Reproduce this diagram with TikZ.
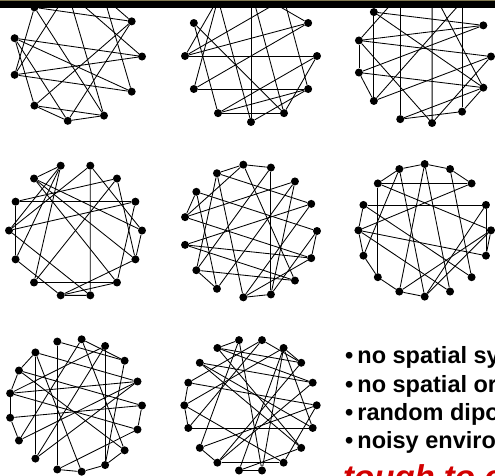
\documentclass[tikz,border=0pt]{standalone}
\usepackage{fontspec}
\setmainfont{Liberation Sans}
\definecolor{barline}{RGB}{128,120,80}
\definecolor{tough}{RGB}{210,0,0}
\begin{document}
\begin{tikzpicture}[x=1pt,y=-1pt,
  dot/.style={circle,fill=black,inner sep=0pt,minimum size=8pt},
  link/.style={line width=0.85pt},
  item/.style={anchor=base west,inner sep=0pt,font=\bfseries\fontsize{23.5}{28}\selectfont}]
  \clip (0,0) rectangle (495,475);
  % graph a, 11 dots
  \foreach \k in {0,...,10}
    \path (77,56.5) ++({65*cos(\k*360/11)},{-65*sin(\k*360/11)}) node[dot] (a\k) {};
  \foreach \i/\j in {5/0,5/10,6/0,6/10,5/7,5/8,4/1,6/3,7/1,7/8,7/9,8/9,8/1,9/3,10/2,0/3,1/2,4/9,6/4}
    \draw[link] (a\i) -- (a\j);
  % graph b, 12 dots
  \foreach \k in {0,...,11}
    \path (251,56) ++({66*cos(\k*360/12)},{-66*sin(\k*360/12)}) node[dot] (b\k) {};
  \foreach \i/\j in {0/6,7/11,6/1,6/2,5/10,5/8,0/8,0/10,11/8,11/9,9/4,9/3,1/7,4/6,4/7,2/11,3/10,1/3,8/10}
    \draw[link] (b\i) -- (b\j);
  % graph c, 13 dots
  \foreach \k in {0,...,12}
    \path (424,56.5) ++({67*cos(\k*360/13)},{-67*sin(\k*360/13)}) node[dot] (c\k) {};
  \foreach \i/\j in {5/8,9/4,10/3,6/1,6/0,7/1,7/12,8/0,6/10,9/12,9/11,10/0,11/2,5/1,5/12,6/7,7/8,4/6,2/8,12/3,11/12}
    \draw[link] (c\i) -- (c\j);
  % graph d, 14 dots
  \foreach \k in {0,...,13}
    \path (75.5,230.5) ++({66.5*cos(\k*360/14)},{-66.5*sin(\k*360/14)}) node[dot] (d\k) {};
  \foreach \i/\j in {3/11,6/1,9/12,6/8,4/5,4/7,4/8,4/9,3/0,3/7,2/9,2/13,5/0,5/13,6/2,7/1,7/11,10/11,10/13,10/12,0/13,1/12,8/10,5/12}
    \draw[link] (d\i) -- (d\j);
  % graph e, 15 dots
  \foreach \k in {0,...,14}
    \path (250.3,231) ++({66.7*cos(\k*360/15)},{-66.7*sin(\k*360/15)}) node[dot] (e\k) {};
  \foreach \i/\j in {3/12,4/3,4/5,4/7,4/13,5/9,5/11,6/7,6/0,7/2,7/14,8/14,8/13,8/1,9/10,9/3,10/2,11/12,11/1,11/14,12/2,5/1,6/10,9/13,0/14,12/0}
    \draw[link] (e\i) -- (e\j);
  % graph f, 16 dots
  \foreach \k in {0,...,15}
    \path (424.7,230.3) ++({66.3*cos(\k*360/16)},{-66.3*sin(\k*360/16)}) node[dot] (f\k) {};
  \foreach \i/\j in {6/2,7/1,6/10,1/15,4/3,4/13,4/11,5/6,5/12,3/14,2/8,8/15,8/13,7/8,8/9,9/10,10/11,11/12,0/11,0/12,9/5,6/0,4/5,3/2,0/15,14/7,1/12}
    \draw[link] (f\i) -- (f\j);
  % graph g, 17 dots
  \foreach \k in {0,...,16}
    \path (75.5,405.5) ++({66.5*cos(\k*360/17)},{-66.5*sin(\k*360/17)}) node[dot] (g\k) {};
  \foreach \i/\j in {5/12,3/14,6/11,8/9,7/8,4/2,4/10,4/15,5/2,3/11,3/8,6/1,6/13,7/0,8/1,8/16,9/0,10/1,11/1,12/13,13/14,14/15,0/16,14/2,7/15,12/16,9/10,6/7}
    \draw[link] (g\i) -- (g\j);
  % graph h, 18 dots
  \foreach \k in {0,...,17}
    \path (250.5,405.3) ++({66.2*cos(\k*360/18)},{-66.2*sin(\k*360/18)}) node[dot] (h\k) {};
  \foreach \i/\j in {10/17,12/15,7/1,8/0,9/8,9/10,6/1,6/2,5/11,4/8,4/2,3/13,3/17,2/12,0/11,16/6,16/13,14/5,14/3,5/6,7/16,9/15,11/12,13/14,2/3,17/7,10/4,12/1,15/0,9/3}
    \draw[link] (h\i) -- (h\j);
  % bullet list
  \node[item] (s1) at (345,363) {\textbullet\hspace{4pt}no spatial sy};
  \node[item] (s2) at (345,392) {\textbullet\hspace{4pt}no spatial or};
  \node[item] (s3) at (345,420) {\textbullet\hspace{4pt}random dipo};
  \node[item] (s4) at (345,448) {\textbullet\hspace{4pt}noisy enviro};
  \node[item,text=tough,font=\bfseries\itshape\fontsize{33}{38}\selectfont] (s5) at (343,488) {tough to c};
  % header bar
  \fill (0,0) rectangle (495,8);
  \draw[barline,line width=0.8pt] (0,0.4) -- (495,0.4);
\end{tikzpicture}
\end{document}
